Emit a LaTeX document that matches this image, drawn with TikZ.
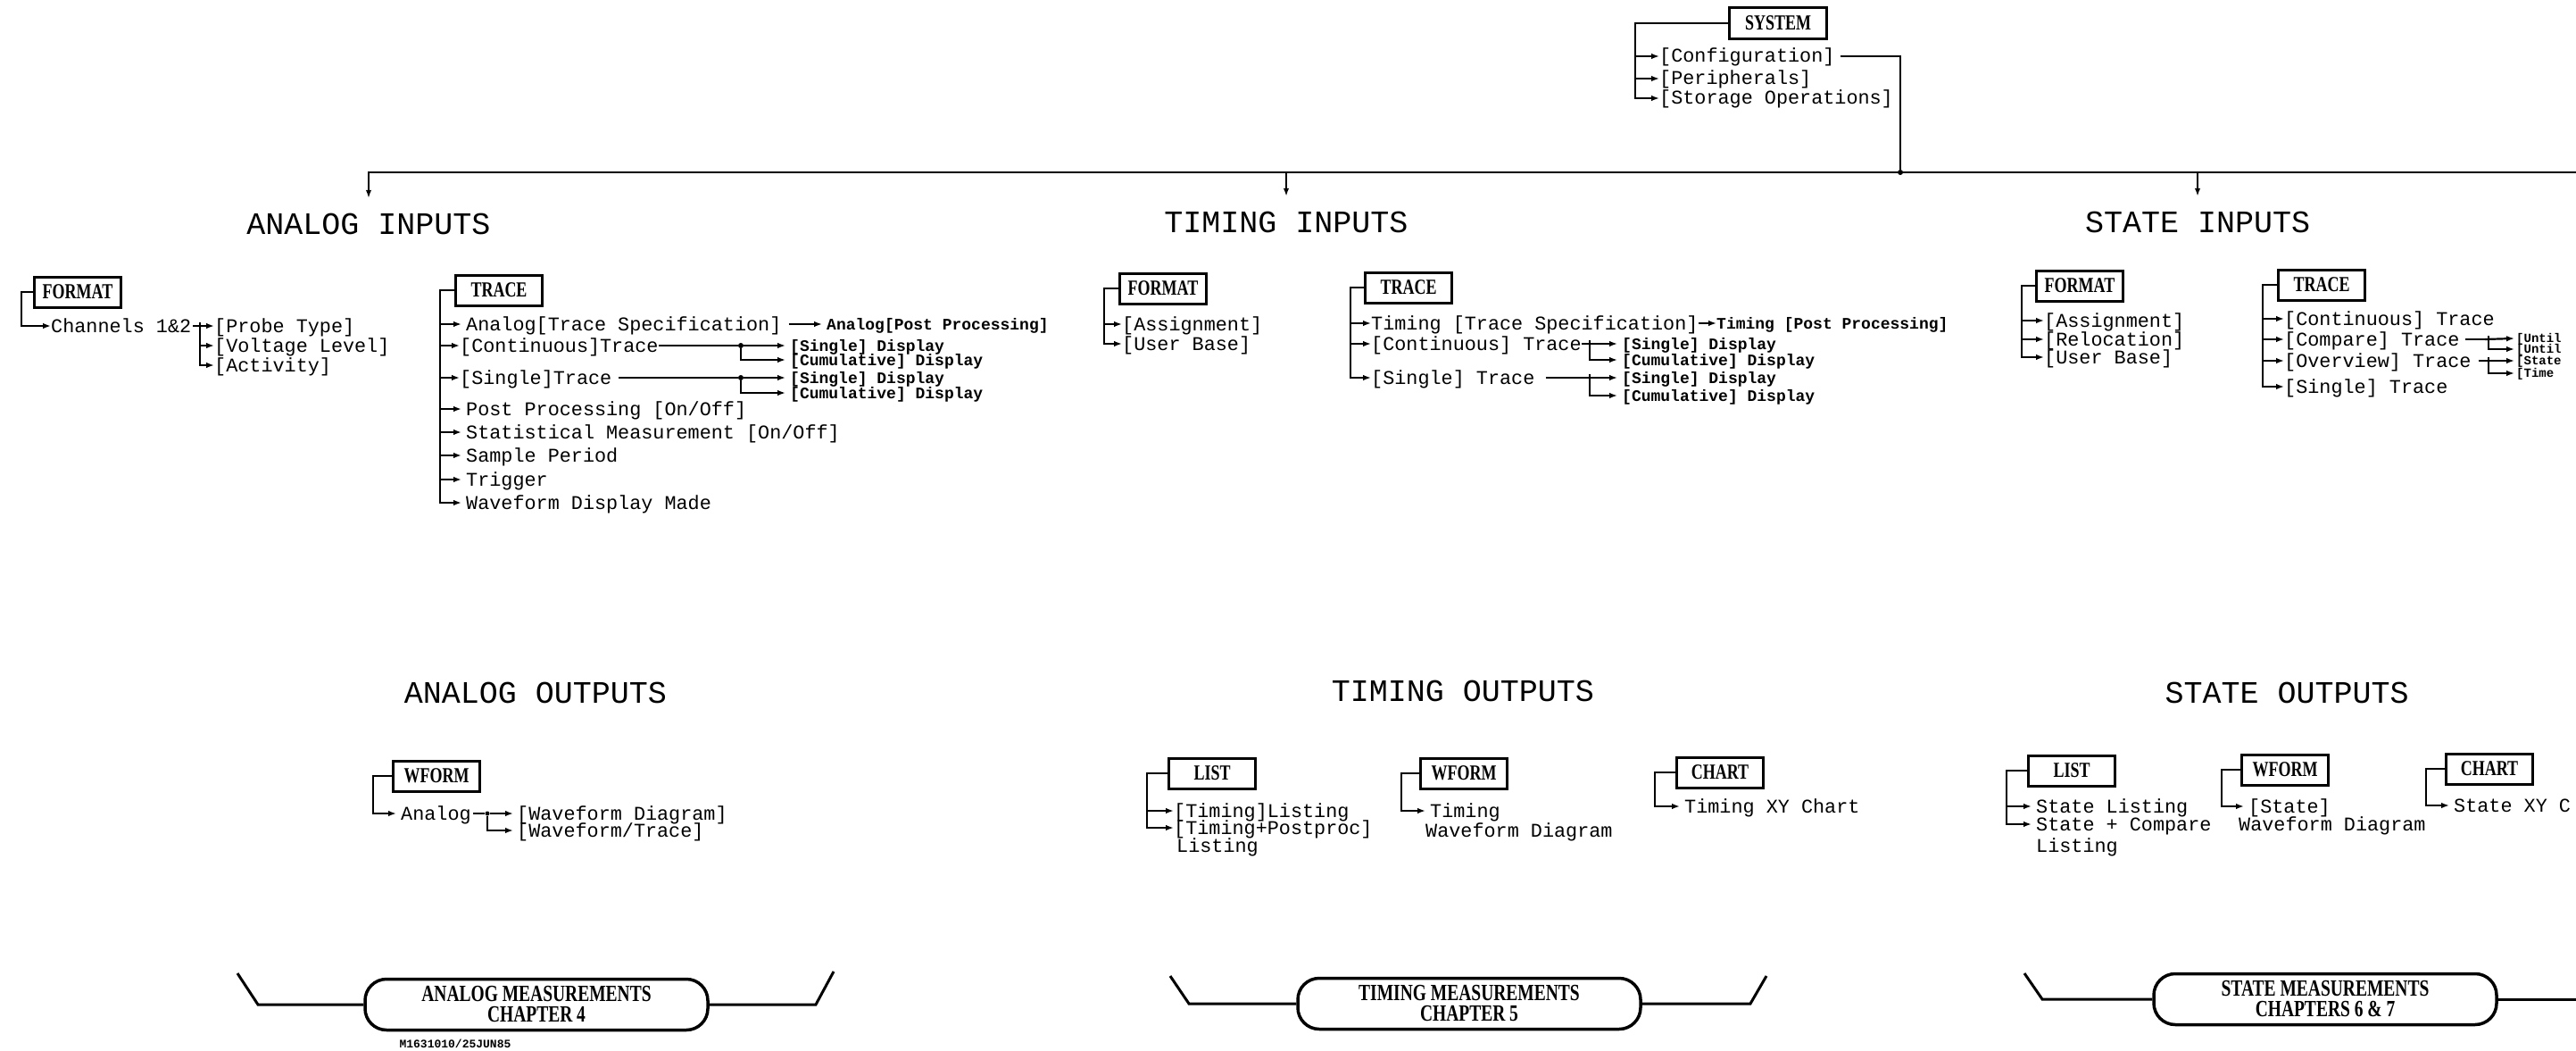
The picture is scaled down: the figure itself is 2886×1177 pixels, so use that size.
\documentclass[tikz,border=0pt]{standalone}
\usepackage{fontspec}
\setmonofont{Liberation Mono}
\newfontfamily\boxfont[FakeStretch=0.75]{Liberation Serif}
\usetikzlibrary{arrows.meta}

\begin{document}
\begin{tikzpicture}[x=1pt, y=-1pt, box/.style={draw, line width=3pt, minimum width=97pt, minimum height=34pt, inner sep=0pt, font=\boxfont\bfseries\fontsize{24}{24}\selectfont}, head/.style={inner sep=0pt, text height=24pt, text depth=0pt, font=\ttfamily\fontsize{35}{35}\selectfont}, t/.style={anchor=west, inner sep=0pt, text height=14pt, text depth=0pt, font=\ttfamily\fontsize{21.8}{22}\selectfont}, s/.style={anchor=west, inner sep=0pt, text height=12pt, text depth=0pt, font=\ttfamily\bfseries\fontsize{18}{18}\selectfont}, ss/.style={anchor=west, inner sep=0pt, text height=9pt, text depth=0pt, font=\ttfamily\bfseries\fontsize{14}{14}\selectfont}, n/.style={line width=2.2pt}, a/.style={-{Latex[length=9pt, width=6.5pt]}, line width=2.2pt}, dot/.style={circle, fill, inner sep=0pt, minimum size=6pt}, banner/.style={draw, line width=3.5pt, rounded corners=24pt, minimum width=384pt, minimum height=57pt, inner sep=0pt, align=center, font=\boxfont\bfseries\fontsize{26}{23}\selectfont}]
            \useasboundingbox (0,0) rectangle (2886,1177);
            % system
            \node[box, minimum width=109pt, minimum height=35pt] (system) at (1992,26) {SYSTEM};
            \node[t] (config) at (1859,63) {[Configuration]};
            \node[t] (periph) at (1859,88) {[Peripherals]};
            \node[t] (storage) at (1859,110) {[Storage Operations]};
            \coordinate (sysb) at (1832,26);
            \node[dot] (bus) at (2129,193) {};
            \coordinate (busr) at (2886,193);
            \draw[a] (system.west) -- (sysb) |- (storage.west);
            \foreach \i in {config, periph} \draw[a] (sysb |- \i.west) -- (\i.west);
            \draw[n] ([xshift=6pt]config.east) -| (bus);
            % headings
            \node[head] (ain) at (413,250) {ANALOG INPUTS};
            \node[head] (tin) at (1441,248) {TIMING INPUTS};
            \node[head] (sin) at (2462,248) {STATE INPUTS};
            \node[head] (aout) at (600,775) {ANALOG OUTPUTS};
            \node[head] (tout) at (1639,773) {TIMING OUTPUTS};
            \node[head] (sout) at (2562,775) {STATE OUTPUTS};
            \draw[a] (busr) -| ([yshift=16pt]ain.north);
            \draw[a] (tin.north |- bus) -- ([yshift=16pt]tin.north);
            \draw[a] (sin.north |- bus) -- ([yshift=16pt]sin.north);
            % analog format
            \node[box] (aformat) at (87,327) {FORMAT};
            \node[t] (achan) at (57,365) {Channels 1\&2};
            \node[t] (aprobe) at (240,365) {[Probe Type]};
            \node[t] (avolt) at (240,387) {[Voltage Level]};
            \node[t] (aact) at (240,409) {[Activity]};
            \coordinate (afb) at (24,327);
            \coordinate (acb) at (224,365);
            \draw[a] (aformat.west) -- (afb) |- (achan.west);
            \draw[n] ([xshift=2pt]achan.east) -- (acb);
            \draw[a] ([yshift=4pt]acb) |- (aprobe.west);
            \draw[a] (acb) |- (avolt.west);
            \draw[a] (acb) |- (aact.west);
            % analog trace
            \node[box] (atrace) at (559,325) {TRACE};
            \coordinate (atb) at (493,325);
            \node[t] (aspec) at (522,363) {Analog[Trace Specification]};
            \node[s] (apost) at (926,363) {Analog[Post Processing]};
            \node[t] (acont) at (515,387) {[Continuous]Trace};
            \node[dot] (acdot) at (830,387) {};
            \node[s] (acs) at (885,387) {[Single] Display};
            \node[s] (acc) at (885,403) {[Cumulative] Display};
            \node[t] (asing) at (515,423) {[Single]Trace};
            \node[dot] (asdot) at (830,423) {};
            \node[s] (ass) at (885,423) {[Single] Display};
            \node[s] (asc) at (885,440) {[Cumulative] Display};
            \node[t] (app) at (522,458) {Post Processing [On/Off]};
            \node[t] (astat) at (522,484) {Statistical Measurement [On/Off]};
            \node[t] (asamp) at (522,510) {Sample Period};
            \node[t] (atrig) at (522,537) {Trigger};
            \node[t] (awave) at (522,563) {Waveform Display Made};
            \draw[a] (atrace.west) -- (atb) |- ([xshift=-5pt]awave.west);
            \foreach \i in {aspec, app, astat, asamp, atrig} \draw[a] (atb |- \i.west) -- ([xshift=-5pt]\i.west);
            \foreach \i in {acont, asing} \draw[a] (atb |- \i.west) -- (\i.west);
            \draw[a] ([xshift=8pt]aspec.east) -- ([xshift=-5pt]apost.west);
            \draw[n] (acont.east) -- (acdot);
            \draw[a] (acdot) -- ([xshift=-5pt]acs.west);
            \draw[a] (acdot) |- ([xshift=-5pt]acc.west);
            \draw[n] ([xshift=8pt]asing.east) -- (asdot);
            \draw[a] (asdot) -- ([xshift=-5pt]ass.west);
            \draw[a] (asdot) |- ([xshift=-5pt]asc.west);
            % timing format
            \node[box] (tformat) at (1303,323) {FORMAT};
            \coordinate (tfb) at (1237,323);
            \node[t] (tassign) at (1257,363) {[Assignment]};
            \node[t] (tuser) at (1257,385) {[User Base]};
            \draw[a] (tformat.west) -- (tfb) |- (tuser.west);
            \draw[a] (tfb |- tassign.west) -- (tassign.west);
            % timing trace
            \node[box] (ttrace) at (1578,322) {TRACE};
            \coordinate (ttb) at (1513,322);
            \node[t] (tspec) at (1536,362) {Timing [Trace Specification]};
            \node[s] (tpost) at (1923,362) {Timing [Post Processing]};
            \node[t] (tcont) at (1536,385) {[Continuous] Trace};
            \coordinate (tcb) at (1781,385);
            \node[s] (tcs) at (1817,385) {[Single] Display};
            \node[s] (tcc) at (1817,403) {[Cumulative] Display};
            \node[t] (tsing) at (1536,423) {[Single] Trace};
            \coordinate (tsb) at (1781,423);
            \node[s] (tss) at (1817,423) {[Single] Display};
            \node[s] (tsc) at (1817,443) {[Cumulative] Display};
            \draw[a] (ttrace.west) -- (ttb) |- (tsing.west);
            \foreach \i in {tspec, tcont} \draw[a] (ttb |- \i.west) -- (\i.west);
            \draw[a] (tspec.east) -- (tpost.west);
            \draw[n] (tcont.east) -- (tcb);
            \draw[a] ([xshift=-4pt]tcb) -- ([xshift=-5pt]tcs.west);
            \draw[a] ([yshift=4pt]tcb) |- ([xshift=-5pt]tcc.west);
            \draw[n] ([xshift=12pt]tsing.east) -- (tsb);
            \draw[a] ([xshift=-4pt]tsb) -- ([xshift=-5pt]tss.west);
            \draw[a] ([yshift=4pt]tsb) |- ([xshift=-5pt]tsc.west);
            % state format
            \node[box] (sformat) at (2330,320) {FORMAT};
            \coordinate (sfb) at (2265,320);
            \node[t] (sassign) at (2290,359) {[Assignment]};
            \node[t] (sreloc) at (2290,380) {[Relocation]};
            \node[t] (suser) at (2290,400) {[User Base]};
            \draw[a] (sformat.west) -- (sfb) |- (suser.west);
            \foreach \i in {sassign, sreloc} \draw[a] (sfb |- \i.west) -- (\i.west);
            % state trace
            \node[box] (strace) at (2601,319) {TRACE};
            \coordinate (stb) at (2535,319);
            \node[t] (scont) at (2559,357) {[Continuous] Trace};
            \node[t] (scomp) at (2559,380) {[Compare] Trace};
            \coordinate (scb) at (2788,380);
            \node[ss] (scu1) at (2819,379) {[Until};
            \node[ss] (scu2) at (2819,391) {[Until};
            \node[t] (sover) at (2559,404) {[Overview] Trace};
            \coordinate (sob) at (2788,404);
            \node[ss] (sos) at (2819,404) {[State};
            \node[ss] (sot) at (2819,418) {[Time};
            \node[t] (ssing) at (2559,433) {[Single] Trace};
            \draw[a] (strace.west) -- (stb) |- (ssing.west);
            \foreach \i in {scont, scomp, sover} \draw[a] (stb |- \i.west) -- (\i.west);
            \draw[n] ([xshift=6pt]scomp.east) -- (scb);
            \draw[a] ([xshift=-4pt]scb) -- ([xshift=-2pt]scu1.west);
            \draw[a] ([yshift=4pt]scb) |- ([xshift=-2pt]scu2.west);
            \draw[n] ([xshift=8pt]sover.east) -- (sob);
            \draw[a] ([xshift=-4pt]sob) -- ([xshift=-2pt]sos.west);
            \draw[a] ([yshift=4pt]sob) |- ([xshift=-2pt]sot.west);
            % analog outputs
            \node[box] (awform) at (489,869) {WFORM};
            \coordinate (awb) at (418,869);
            \node[t] (aana) at (449,911) {Analog};
            \node[dot, minimum size=5pt] (aab) at (546,911) {};
            \node[t] (awd) at (579,911) {[Waveform Diagram]};
            \node[t] (awt) at (579,930) {[Waveform/Trace]};
            \draw[a] (awform.west) -- (awb) |- ([xshift=-5pt]aana.west);
            \draw[n] ([xshift=2pt]aana.east) -- (aab);
            \draw[a] (aab) -- ([xshift=-4pt]awd.west);
            \draw[a] (aab) |- ([xshift=-4pt]awt.west);
            % timing outputs
            \node[box] (tlist) at (1358,866) {LIST};
            \coordinate (tlb) at (1285,866);
            \node[t] (tll) at (1315,908) {[Timing]Listing};
            \node[t] (tlp) at (1315,927) {[Timing+Postproc]};
            \node[t] (tlp2) at (1318,947) {Listing};
            \draw[a] (tlist.west) -- (tlb) |- (tlp.west);
            \draw[a] (tlb |- tll.west) -- (tll.west);
            \node[box] (twform) at (1640,866) {WFORM};
            \coordinate (twb) at (1570,866);
            \node[t] (twt) at (1602,908) {Timing};
            \node[t] (twd) at (1597,930) {Waveform Diagram};
            \draw[a] (twform.west) -- (twb) |- ([xshift=-5pt]twt.west);
            \node[box] (tchart) at (1927,865) {CHART};
            \coordinate (tchb) at (1854,865);
            \node[t] (txy) at (1887,903) {Timing XY Chart};
            \draw[a] (tchart.west) -- (tchb) |- ([xshift=-5pt]txy.west);
            % state outputs
            \node[box] (slist) at (2321,863) {LIST};
            \coordinate (slb) at (2248,863);
            \node[t] (ssl) at (2281,903) {State Listing};
            \node[t] (ssc) at (2281,923) {State + Compare};
            \node[t] (ssc2) at (2281,947) {Listing};
            \draw[a] (slist.west) -- (slb) |- ([xshift=-5pt]ssc.west);
            \draw[a] (slb |- ssl.west) -- ([xshift=-5pt]ssl.west);
            \node[box] (swform) at (2560,862) {WFORM};
            \coordinate (swb) at (2489,862);
            \node[t] (sws) at (2519,903) {[State]};
            \node[t] (swd) at (2508,923) {Waveform Diagram};
            \draw[a] (swform.west) -- (swb) |- ([xshift=-5pt]sws.west);
            \node[box] (schart) at (2789,861) {CHART};
            \coordinate (schb) at (2718,861);
            \node[t] (sxy) at (2749,902) {State XY C};
            \draw[a] (schart.west) -- (schb) |- ([xshift=-5pt]sxy.west);
            % chapter banners
            \node[banner] (aban) at (601,1125) {ANALOG MEASUREMENTS\\CHAPTER 4};
            \node[banner] (tban) at (1646,1124) {TIMING MEASUREMENTS\\CHAPTER 5};
            \node[banner] (sban) at (2605,1119) {STATE MEASUREMENTS\\CHAPTERS 6 \& 7};
            \node[inner sep=0pt, font=\ttfamily\bfseries\fontsize{13}{13}\selectfont] (acode) at (510,1169) {M1631010/25JUN85};
            \draw[line width=3pt] (266,1090) -- (289,1125) -- (aban.west);
            \draw[line width=3pt] (aban.east) -- (914,1125) -- (934,1088);
            \draw[line width=3pt] (1311,1093) -- (1332,1124) -- (tban.west);
            \draw[line width=3pt] (tban.east) -- (1961,1124) -- (1979,1093);
            \draw[line width=3pt] (2268,1090) -- (2288,1119) -- (sban.west);
            \draw[line width=3pt] (sban.east) -- (2886,1119);
        \end{tikzpicture}
\end{document}
